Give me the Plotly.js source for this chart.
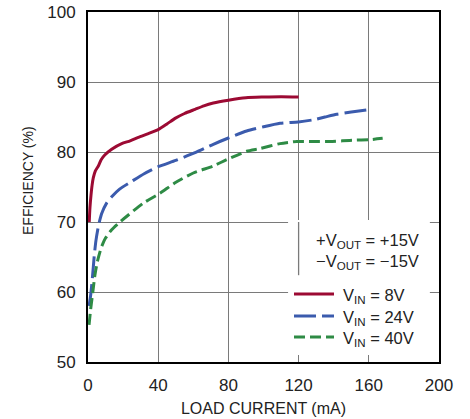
<!DOCTYPE html>
<html>
<head>
<meta charset="utf-8">
<script src="https://cdn.plot.ly/plotly-3.0.1.min.js"></script>
<style>html,body{margin:0;padding:0;background:#fff;}#chart{width:470px;height:419px;}</style>
</head>
<body>
<div id="chart"></div>
<script>
// Series names
const seriesNames = ["V<sub>IN</sub> = 8V", "V<sub>IN</sub> = 24V", "V<sub>IN</sub> = 40V"];
// Load current (mA) and efficiency (%) per series
const load8V = [0.7, 1.1, 1.7, 2.3, 3.0, 4.2, 5.9, 7.5, 9.7, 13.5, 19.2, 24, 28.7, 34, 40, 45, 49.6, 55, 61, 66, 71.4, 80, 90, 100, 110, 120];
const eff8V  = [70, 72, 73.8, 75.2, 76.3, 77.3, 78.0, 78.9, 79.6, 80.4, 81.2, 81.6, 82.1, 82.6, 83.2, 84.0, 84.8, 85.5, 86.1, 86.6, 87.0, 87.4, 87.75, 87.85, 87.9, 87.86];
const load24V = [0.6, 1.5, 2.5, 3.5, 4.5, 6, 7.8, 10.6, 13.5, 18, 24.9, 32, 40, 50, 61, 71.4, 80, 90.4, 100, 109.4, 119.8, 128.4, 135, 141.7, 150, 158.8];
const eff24V  = [58, 59.5, 62, 65, 67.3, 69.5, 71.2, 72.7, 73.6, 74.7, 75.8, 76.9, 77.9, 78.8, 79.9, 81.1, 82.0, 83.0, 83.6, 84.1, 84.3, 84.6, 85.0, 85.4, 85.7, 86.0];
const load40V = [0.6, 1.5, 2.5, 4, 5.5, 7.5, 10, 13.5, 18.2, 23, 31.5, 41, 49.6, 60, 71.4, 79, 90.4, 98, 109.4, 118.9, 128, 137.9, 145, 153.1, 160, 167.9];
const eff40V  = [55.3, 57.5, 59.5, 62.5, 64.5, 66.3, 67.7, 68.9, 70.0, 71.0, 72.7, 74.1, 75.6, 77.0, 78.0, 78.9, 80.1, 80.5, 81.2, 81.5, 81.5, 81.5, 81.6, 81.7, 81.75, 81.95];
// Axis ticks
const xTicks = [0, 40, 80, 120, 160, 200];
const yTicks = [50, 60, 70, 80, 90, 100];

const FONT = "'Liberation Sans', Arial, sans-serif";
const TXT = "#222";
const RED = "#9c0a33", BLUE = "#3b5bad", GREEN = "#2e8b45";

const traces = [
  {x: load8V, y: eff8V, name: seriesNames[0], mode: "lines", line: {color: RED, width: 3, shape: "spline", smoothing: 0.6}},
  {x: load24V, y: eff24V, name: seriesNames[1], mode: "lines", line: {color: BLUE, width: 3, dash: "22px,6px", shape: "spline", smoothing: 0.6}},
  {x: load40V, y: eff40V, name: seriesNames[2], mode: "lines", line: {color: GREEN, width: 3, dash: "11px,5px", shape: "spline", smoothing: 0.6}}
];

// paper-coordinate helpers (plot area 88..439 x, 12..362 y)
const W = 470, H = 419, L = 88, R = 439, T = 12, B = 362;
const px = v => (v - L) / (R - L);
const py = v => (B - v) / (B - T);

const legendY = [294, 316, 337];
const legendColors = [RED, BLUE, GREEN];
const legendDash = ["solid", "22px,6px", "11px,5px"];

const shapes = [
  {type: "rect", xref: "x", yref: "y", x0: 114, x1: 194.8, y0: 51, y1: 70.3, fillcolor: "#fff", line: {width: 0}},
  {type: "line", xref: "x", yref: "y", x0: 120, x1: 120, y0: 70, y1: 62.4, line: {color: "#7a7a7a", width: 1.3}}
];
legendY.forEach((yy, i) => {
  shapes.push({type: "line", xref: "paper", yref: "paper", x0: px(294), x1: px(334), y0: py(yy), y1: py(yy),
    line: {color: legendColors[i], width: 3, dash: legendDash[i]}});
});

const annotations = [
  {text: "+V<sub>OUT</sub> = +15V", xref: "paper", yref: "paper", x: px(314), y: py(241), xanchor: "left", yanchor: "middle", showarrow: false, font: {family: FONT, size: 16.5, color: TXT}},
  {text: "\u2212V<sub>OUT</sub> = \u221215V", xref: "paper", yref: "paper", x: px(314), y: py(262), xanchor: "left", yanchor: "middle", showarrow: false, font: {family: FONT, size: 16.5, color: TXT}},
  {text: "EFFICIENCY (%)", xref: "paper", yref: "paper", x: px(28), y: py(181), xanchor: "center", yanchor: "middle", textangle: -90, showarrow: false, font: {family: FONT, size: 14, color: TXT}}
];
legendY.forEach((yy, i) => {
  annotations.push({text: seriesNames[i], xref: "paper", yref: "paper", x: px(341), y: py(yy + 2), xanchor: "left", yanchor: "middle", showarrow: false, font: {family: FONT, size: 16.5, color: TXT}});
});

const layout = {
  width: W, height: H,
  margin: {l: L, r: W - R, t: T, b: H - B, pad: 0},
  paper_bgcolor: "#fff", plot_bgcolor: "#fff",
  showlegend: false,
  font: {family: FONT, size: 16, color: TXT},
  xaxis: {
    range: [0, 200], tickvals: xTicks, ticktext: xTicks.map(String),
    showgrid: true, gridcolor: "#7a7a7a", gridwidth: 1.3, zeroline: false,
    showline: true, linecolor: "#000", linewidth: 2, mirror: true,
    ticks: "outside", ticklen: 7, tickcolor: "rgba(0,0,0,0)",
    tickfont: {family: FONT, size: 17, color: TXT},
    title: {text: "LOAD CURRENT (mA)", font: {family: FONT, size: 16, color: TXT}, standoff: 8}
  },
  yaxis: {
    range: [50, 100], tickvals: yTicks, ticktext: yTicks.map(String),
    showgrid: true, gridcolor: "#7a7a7a", gridwidth: 1.3, zeroline: false,
    showline: true, linecolor: "#000", linewidth: 2, mirror: true,
    ticks: "outside", ticklen: 7, tickcolor: "rgba(0,0,0,0)",
    tickfont: {family: FONT, size: 17, color: TXT}
  },
  shapes: shapes,
  annotations: annotations
};

Plotly.newPlot("chart", traces, layout, {displayModeBar: false}).then(gd => {
  // drop empty placeholder text nodes Plotly leaves behind
  gd.querySelectorAll("text").forEach(t => { if (!t.textContent.trim()) t.remove(); });
});
</script>
</body>
</html>
